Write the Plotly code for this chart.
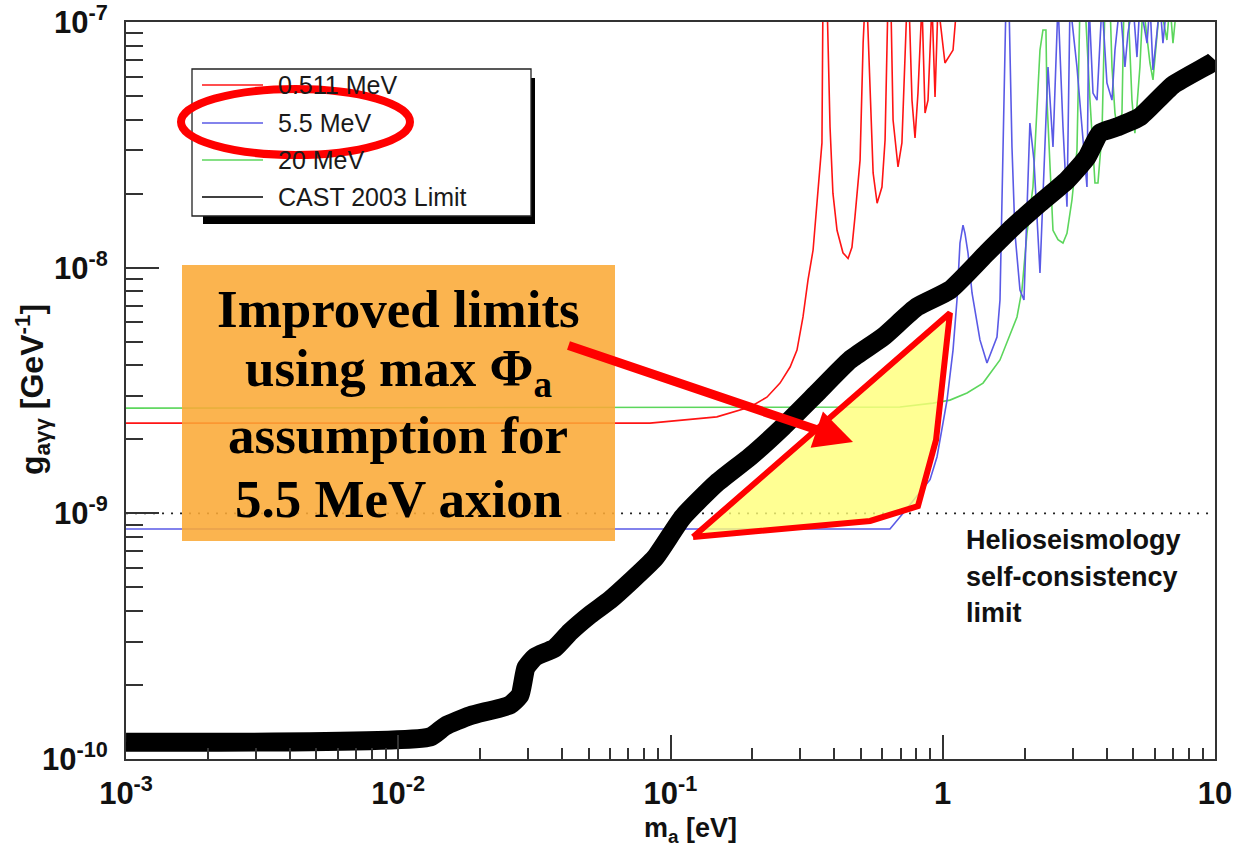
import plotly.graph_objects as go

# ---------------- data ----------------
OFF = 1.2e-7  # curve leaves the plotted range (above 1e-7)

MASS_0511 = [0.001, 0.0841, 0.148, 0.196, 0.226, 0.2525, 0.275, 0.2915, 0.3067, 0.320,
             0.334, 0.348, 0.360, 0.363, 0.376, 0.3855, 0.395, 0.409, 0.430, 0.449,
             0.464, 0.476, 0.497, 0.510, 0.518, 0.527, 0.541, 0.555, 0.574, 0.598,
             0.614, 0.629, 0.645, 0.657, 0.685, 0.708, 0.739, 0.752, 0.771, 0.791,
             0.811, 0.839, 0.861, 0.883, 0.913, 0.937, 0.961, 0.994, 1.019, 1.091, 1.128]
G_0511 = [2.33e-9, 2.33e-9, 2.47e-9, 2.71e-9, 2.97e-9, 3.39e-9, 3.94e-9, 4.62e-9, 6.30e-9, 8.91e-9,
          1.18e-8, 2.01e-8, 3.22e-8, OFF, OFF, 3.74e-8, 2.01e-8, 1.42e-8, 1.15e-8, 1.09e-8,
          1.21e-8, 1.61e-8, 2.74e-8, 8.21e-8, OFF, OFF, 5.29e-8, 2.43e-8, 1.83e-8, 2.13e-8,
          3.31e-8, OFF, OFF, 3.99e-8, 2.57e-8, 3.22e-8, OFF, OFF, 4.81e-8, 3.37e-8,
          5.14e-8, OFF, 4.26e-8, 4.81e-8, OFF, 4.95e-8, OFF, 8.45e-8, 6.81e-8, 7.69e-8, OFF]

MASS_55 = [0.001, 0.640, 0.715, 0.804, 0.898, 0.953, 1.037, 1.091, 1.128, 1.157,
           1.187, 1.207, 1.238, 1.281, 1.370, 1.454, 1.582, 1.623, 1.664, 1.707,
           1.751, 1.766, 1.796, 1.842, 1.922, 1.988, 2.09, 2.163, 2.276, 2.436,
           2.541, 2.651, 2.765, 2.86, 2.934, 3.112, 3.247, 3.387, 3.445, 3.564,
           3.687, 3.846, 4.01, 4.185, 4.292, 4.477, 4.67, 4.79, 4.997, 5.17,
           5.30, 5.63, 5.77, 5.92, 6.12, 6.28, 6.44, 6.66]
G_55 = [8.63e-10, 8.63e-10, 1.00e-9, 1.17e-9, 1.37e-9, 1.70e-9, 2.89e-9, 4.62e-9, 7.39e-9, 1.26e-8,
        1.49e-8, 1.38e-8, 1.15e-8, 7.89e-9, 5.08e-9, 4.09e-9, 5.22e-9, 7.39e-9, 2.93e-8, OFF,
        OFF, 6.81e-8, 3.10e-8, 1.38e-8, 8.11e-9, 7.39e-9, 3.88e-8, 2.74e-8, 9.51e-9, 6.56e-8,
        3.10e-8, OFF, 3.74e-8, 1.77e-8, OFF, 6.56e-8, 3.74e-8, 2.13e-8, OFF, 5.14e-8,
        4.81e-8, OFF, 5.65e-8, 4.81e-8, 7.69e-8, OFF, 6.56e-8, 9.02e-8, OFF, 7.20e-8,
        OFF, 8.21e-8, OFF, 6.38e-8, 9.02e-8, OFF, 8.21e-8, OFF]

MASS_20 = [0.001, 0.697, 0.921, 1.063, 1.228, 1.406, 1.623, 1.766, 1.874, 1.954,
           2.039, 2.145, 2.219, 2.276, 2.334, 2.394, 2.415, 2.477, 2.541, 2.651,
           2.765, 2.86, 2.984, 3.112, 3.193, 3.331, 3.474, 3.624, 3.717, 3.846,
           3.945, 4.115, 4.185, 4.292, 4.402, 4.554, 4.632, 4.79, 4.955, 5.08,
           5.30, 5.44, 5.77, 5.92, 6.12, 6.28, 6.66, 6.83, 7.01, 7.25, 7.89]
G_20 = [2.68e-9, 2.71e-9, 2.81e-9, 2.89e-9, 3.09e-9, 3.39e-9, 4.21e-9, 5.32e-9, 6.30e-9, 8.11e-9,
        1.38e-8, 2.13e-8, 4.81e-8, 7.69e-8, 9.28e-8, 9.28e-8, 4.81e-8, 2.57e-8, 1.42e-8, 1.30e-8,
        1.26e-8, 1.38e-8, 1.89e-8, 3.01e-8, OFF, OFF, 4.81e-8, 2.21e-8, 2.21e-8, 3.53e-8,
        OFF, OFF, 6.56e-8, 4.26e-8, 3.53e-8, 4.26e-8, OFF, OFF, 4.81e-8, 3.53e-8,
        6.56e-8, OFF, 6.81e-8, 5.81e-8, 9.02e-8, OFF, 8.45e-8, OFF, 8.21e-8, OFF, OFF]

MASS_CAST = [0.001, 0.0131, 0.01486, 0.01835, 0.0257, 0.028, 0.02945, 0.0318, 0.0376, 0.0428,
             0.0506, 0.060, 0.071, 0.0877, 0.111, 0.148, 0.196, 0.259, 0.345, 0.456,
             0.603, 0.804, 1.063, 1.454, 1.81, 2.276, 2.86, 3.39, 3.78, 4.37,
             5.30, 7.01, 9.83, 10.0]
G_CAST = [1.17e-10, 1.23e-10, 1.36e-10, 1.50e-10, 1.66e-10, 1.82e-10, 2.35e-10, 2.60e-10, 2.83e-10, 3.29e-10,
          3.86e-10, 4.44e-10, 5.25e-10, 6.58e-10, 9.66e-10, 1.33e-9, 1.70e-9, 2.25e-9, 3.09e-9, 4.21e-9,
          5.22e-9, 6.92e-9, 8.11e-9, 1.15e-8, 1.46e-8, 1.83e-8, 2.27e-8, 2.82e-8, 3.53e-8, 3.74e-8,
          4.11e-8, 5.54e-8, 6.87e-8, 7.0e-8]

HELIO_MASS = [0.001, 10.0]
HELIO_G = [1e-9, 1e-9]

IMPROVED_MASS = [0.121, 0.541, 0.811, 0.945, 1.063, 0.121]
IMPROVED_G = [8.01e-10, 9.31e-10, 1.07e-9, 1.99e-9, 6.54e-9, 8.01e-10]

SERIES_NAMES = ["0.511 MeV", "5.5 MeV", "20 MeV", "CAST 2003 Limit"]
SERIES_COLORS = ["#ff1414", "#5a5ae6", "#5cd65c", "#000000"]

X_TICKS = [1e-3, 1e-2, 1e-1, 1, 10]
X_TICK_LABELS = ["10<sup>-3</sup>", "10<sup>-2</sup>", "10<sup>-1</sup>", "1", "10"]
Y_TICKS = [1e-10, 1e-9, 1e-8, 1e-7]
Y_TICK_LABELS = ["10<sup>-10</sup>", "10<sup>-9</sup>", "10<sup>-8</sup>", "10<sup>-7</sup>"]
X_MINOR = [m * 10.0 ** e for e in range(-3, 1) for m in range(2, 10)]
Y_MINOR = [m * 10.0 ** e for e in range(-10, -7) for m in range(2, 10)]

BOX_LINES = ["Improved limits", "using max \u03a6<sub>a</sub>", "assumption for", "5.5 MeV axion"]
HELIO_LINES = ["Helioseismology", "self-consistency", "limit"]

# ---------------- layout geometry ----------------
W, H = 1233, 847
ML, MR, MT, MB = 126, 18, 22, 88
PW, PH = W - ML - MR, H - MT - MB
EPS = 1e-4  # tiny padding so the end ticks (1e-7, 10) are kept


def px(x):
    return (x - ML) / PW


def py(y):
    return (H - MB - y) / PH


SANS = "Liberation Sans, Arial, sans-serif"
SERIF = "Liberation Serif, Times New Roman, serif"

fig = go.Figure()
for xs, ys, name, col in [(MASS_0511, G_0511, SERIES_NAMES[0], SERIES_COLORS[0]),
                          (MASS_20, G_20, SERIES_NAMES[2], SERIES_COLORS[2]),
                          (MASS_55, G_55, SERIES_NAMES[1], SERIES_COLORS[1])]:
    fig.add_trace(go.Scatter(x=xs, y=ys, mode="lines", name=name,
                             line=dict(color=col, width=1.6), showlegend=False))

fig.add_trace(go.Scatter(x=HELIO_MASS, y=HELIO_G, mode="lines", showlegend=False,
                         line=dict(color="#222222", width=1.8, dash="2px,7px")))
fig.add_trace(go.Scatter(x=MASS_CAST, y=G_CAST, mode="lines", name=SERIES_NAMES[3],
                         line=dict(color="#000000", width=19, shape="spline", smoothing=0.5),
                         showlegend=False))
fig.add_trace(go.Scatter(x=IMPROVED_MASS, y=IMPROVED_G, mode="lines", fill="toself",
                         fillcolor="rgba(255,255,120,0.80)",
                         line=dict(color="#ff0000", width=6), showlegend=False))

shapes = []
# legend box with shadow
shapes.append(dict(type="rect", xref="paper", yref="paper", x0=px(203), x1=px(535),
                   y0=py(224), y1=py(78), fillcolor="black", line=dict(width=0), layer="above"))
shapes.append(dict(type="rect", xref="paper", yref="paper", x0=px(192), x1=px(531),
                   y0=py(216), y1=py(69), fillcolor="white",
                   line=dict(color="#222222", width=1.3), layer="above"))
legend_rows = [85, 123, 160, 197]
for yrow, col in zip(legend_rows, SERIES_COLORS):
    shapes.append(dict(type="line", xref="paper", yref="paper", x0=px(202), x1=px(263),
                       y0=py(yrow), y1=py(yrow), line=dict(color=col, width=1.6), layer="above"))
# orange text box
shapes.append(dict(type="rect", xref="paper", yref="paper", x0=px(182), x1=px(615),
                   y0=py(541), y1=py(265), fillcolor="rgba(250,170,55,0.88)",
                   line=dict(width=0), layer="above"))
# red ellipse around the 5.5 MeV legend entry
shapes.append(dict(type="circle", xref="paper", yref="paper", x0=px(181), x1=px(410),
                   y0=py(155), y1=py(89), line=dict(color="#ff0000", width=8),
                   fillcolor="rgba(0,0,0,0)", layer="above"))

ann = []
for yrow, name in zip(legend_rows, SERIES_NAMES):
    ann.append(dict(x=px(276), y=py(yrow), xref="paper", yref="paper", text=name,
                    showarrow=False, xanchor="left", yanchor="middle",
                    font=dict(family=SANS, size=25, color="#1a1a1a")))
for yc, line in zip([309, 372, 435, 499], BOX_LINES):
    ann.append(dict(x=px(398), y=py(yc), xref="paper", yref="paper", text=line,
                    showarrow=False, xanchor="center", yanchor="middle",
                    font=dict(family=SERIF, size=53, color="black", weight="bold")))
for yc, line in zip([540, 577, 613], HELIO_LINES):
    ann.append(dict(x=px(964), y=py(yc), xref="paper", yref="paper", text=line,
                    showarrow=False, xanchor="left", yanchor="middle",
                    font=dict(family=SANS, size=27, color="#111111", weight="bold")))
# axis titles
ann.append(dict(x=px(690), y=py(830), xref="paper", yref="paper",
                text="m<sub>a</sub> [eV]", showarrow=False, xanchor="center", yanchor="middle",
                font=dict(family=SANS, size=27, color="#111111", weight="bold")))
ann.append(dict(x=px(33), y=py(390), xref="paper", yref="paper",
                text="g<sub>a\u03b3\u03b3</sub> [GeV<sup>-1</sup>]", showarrow=False,
                textangle=-90, xanchor="center", yanchor="middle",
                font=dict(family=SANS, size=32, color="#111111", weight="bold")))
# red arrow
ann.append(dict(x=px(853), y=py(442), xref="paper", yref="paper", text="",
                showarrow=True, ax=567 - 853, ay=345 - 442, axref="pixel", ayref="pixel",
                arrowhead=2, arrowsize=0.85, arrowwidth=9, arrowcolor="#ff0000"))

axis_common = dict(type="log", showgrid=False, zeroline=False, showline=True, automargin=False,
                   linecolor="#333333", linewidth=2, mirror=True, ticks="inside",
                   tickcolor="#333333", tickwidth=1.6, tickmode="array",
                   ticklabeloverflow="allow",
                   tickfont=dict(family=SANS, size=31, color="#111111", weight="bold"))

fig.update_layout(
    width=W, height=H,
    margin=dict(l=ML, r=MR, t=MT, b=MB, autoexpand=False),
    paper_bgcolor="white", plot_bgcolor="white",
    showlegend=False,
    shapes=shapes, annotations=ann,
    xaxis=dict(axis_common, range=[-3 - EPS, 1 + EPS], tickvals=X_TICKS, ticktext=X_TICK_LABELS,
               ticklen=24, ticklabelstandoff=6,
               minor=dict(tickmode="array", tickvals=X_MINOR, ticks="inside", ticklen=11,
                          tickwidth=1.6, tickcolor="#333333", showgrid=False)),
    yaxis=dict(axis_common, range=[-10 - EPS, -7 + EPS], tickvals=Y_TICKS, ticktext=Y_TICK_LABELS,
               ticklen=33, ticklabelstandoff=10,
               minor=dict(tickmode="array", tickvals=Y_MINOR, ticks="inside", ticklen=17,
                          tickwidth=1.6, tickcolor="#333333", showgrid=False)),
)

fig.write_html("out.html")
